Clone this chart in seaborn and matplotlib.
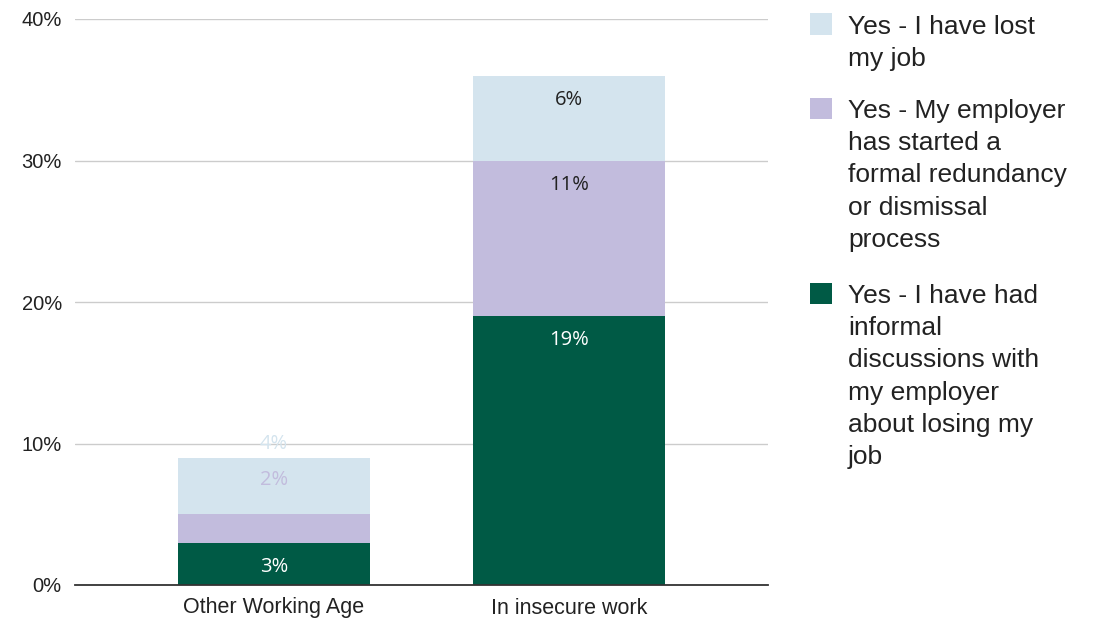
import matplotlib
matplotlib.use("Agg")
import matplotlib.pyplot as plt
import seaborn as sns
import numpy as np
from matplotlib.patches import Rectangle

# ---- data ----
categories = ["Other Working Age", "In insecure work"]
series_names = [
    "Yes - I have had informal discussions with my employer about losing my job",
    "Yes - My employer has started a formal redundancy or dismissal process",
    "Yes - I have lost my job",
]
informal = [3, 19]
formal = [2, 11]
lost = [4, 6]
y_ticks = [0, 10, 20, 30, 40]

legend_labels = [
    "Yes - I have lost\nmy job",
    "Yes - My employer\nhas started a\nformal redundancy\nor dismissal\nprocess",
    "Yes - I have had\ninformal\ndiscussions with\nmy employer\nabout losing my\njob",
]

# ---- style ----
colors = ["#005a45", "#c2bcdd", "#d4e4ee"]
inside_text = ["#ffffff", "#222222", "#222222"]
W, H, DPI = 11.04, 6.19, 100

sns.set_theme(style="white")
plt.rcParams["font.family"] = ["Liberation Sans", "DejaVu Sans"]

fig = plt.figure(figsize=(W, H), dpi=DPI)
ax = fig.add_axes([75 / 1104, 1 - 585 / 619, (768 - 75) / 1104, (585 - 19) / 619])

series = [informal, formal, lost]
cum = np.cumsum(np.array(series), axis=0)  # tops of each segment

# draw tallest first so stacks appear
for i in reversed(range(len(series))):
    sns.barplot(x=categories, y=list(cum[i]), color=colors[i], saturation=1,
                width=0.65, ax=ax, zorder=2, linewidth=0, edgecolor="none")

ax.set_xlim(-0.675, 1.675)
ax.set_ylim(0, 40)
ax.set_yticks(y_ticks)
ax.set_yticklabels([f"{t}%" for t in y_ticks])
ax.yaxis.grid(True, color="#cccccc", linewidth=1)
ax.set_axisbelow(True)
for s in ["top", "right", "left"]:
    ax.spines[s].set_visible(False)
ax.spines["bottom"].set_color("#333333")
ax.spines["bottom"].set_linewidth(1.3)
ax.spines["bottom"].set_zorder(3)
ax.tick_params(axis="both", length=0, colors="#222222")
ax.tick_params(axis="y", pad=9.5, labelsize=14.5)
ax.tick_params(axis="x", pad=9, labelsize=15.5)
ax.set_xlabel("")
ax.set_ylabel("")

# ---- data labels ----
px2pt = 72 / DPI
special_offsets = {(1, 0): 34, (2, 0): 14}  # labels pushed outside small segments (px)
for i, vals in enumerate(series):
    for j, v in enumerate(vals):
        top = cum[i][j]
        if (i, j) in special_offsets:
            off = special_offsets[(i, j)]
            col = colors[i]
        else:
            off = -24
            col = inside_text[i]
        ax.annotate(f"{v}%", xy=(j, top), xytext=(0, off * px2pt),
                    textcoords="offset points", ha="center", va="center",
                    fontsize=14.5, color=col, family=["Open Sans", "DejaVu Sans"],
                    zorder=5)

# ---- legend (manual, handles aligned to first line) ----
leg_items = [(2, legend_labels[0], 24), (1, legend_labels[1], 108), (0, legend_labels[2], 293)]
for idx, lab, yc in leg_items:
    fig.patches.append(Rectangle((810 / 1104, 1 - (yc + 10.5) / 619), 22 / 1104, 21 / 619,
                                 transform=fig.transFigure, facecolor=colors[idx],
                                 edgecolor="none"))
    fig.text(848 / 1104, 1 - (yc - 9) / 619, lab, fontsize=19, color="#222222",
             ha="left", va="top", linespacing=1.43)

fig.savefig("out.png", dpi=DPI)
